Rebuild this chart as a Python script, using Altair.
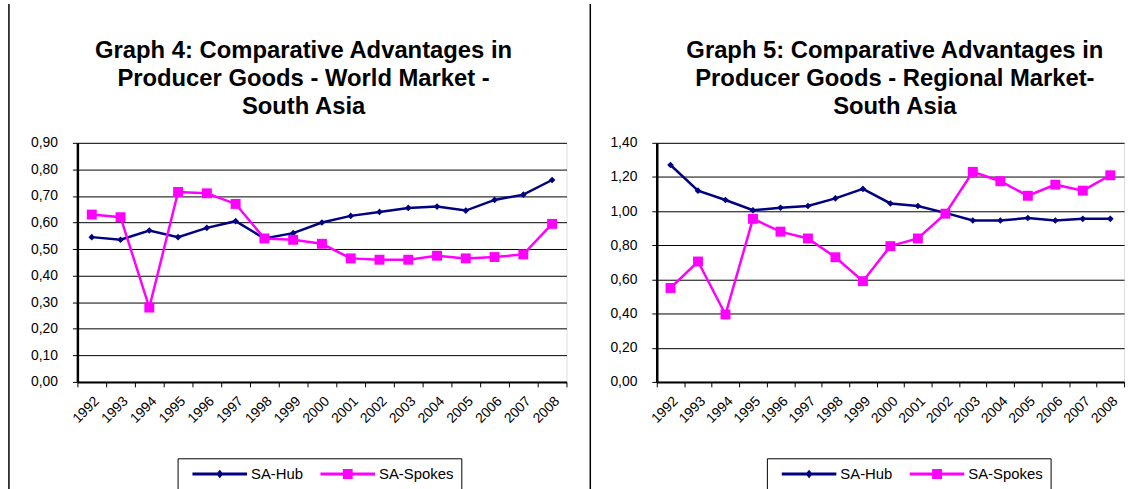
import altair as alt
import pandas as pd

# Years on the category axis
years = [str(y) for y in range(1992, 2009)]

# Revealed comparative advantage, producer goods - world market
world_hub = [0.545, 0.535, 0.57, 0.545, 0.58, 0.605, 0.54, 0.56, 0.60, 0.625,
             0.64, 0.655, 0.66, 0.645, 0.685, 0.705, 0.76]
world_spokes = [0.63, 0.62, 0.28, 0.715, 0.71, 0.67, 0.54, 0.535, 0.52, 0.465,
                0.46, 0.46, 0.475, 0.465, 0.47, 0.48, 0.595]

# Revealed comparative advantage, producer goods - regional market
regional_hub = [1.27, 1.12, 1.065, 1.005, 1.02, 1.03, 1.075, 1.13, 1.045, 1.03,
                0.99, 0.945, 0.945, 0.96, 0.945, 0.955, 0.955]
regional_spokes = [0.55, 0.705, 0.395, 0.955, 0.88, 0.84, 0.73, 0.59, 0.795, 0.84,
                   0.985, 1.23, 1.175, 1.09, 1.155, 1.12, 1.21]

series_names = ["SA-Hub", "SA-Spokes"]
series_colors = ["#000080", "#FF00FF"]
series_shapes = ["diamond", "square"]

# Legend glyphs: a line segment with the series marker in its middle.
# Units are half the symbol side (8.5 px for symbolSize 289); the glyph
# reaches to the right of the symbol box, so the label is pushed past it.
LINE = "M-0.06,-0.18L6.41,-0.18L6.41,0.18L-0.06,0.18Z"
legend_paths = [
    LINE + "M3.18,-0.5L3.6,0L3.18,0.5L2.76,0Z",
    LINE + "M2.6,-0.6L3.76,-0.6L3.76,0.6L2.6,0.6Z",
]

FONT = "Liberation Sans"
PLOT_H = 241


def legend_def(legend_x):
    return alt.Legend(
        title=None, orient="none", legendX=legend_x, legendY=318,
        direction="horizontal", strokeColor="black", padding=7,
        labelFontSize=15, labelFont=FONT, labelColor="black",
        labelOffset=50, columnPadding=9, symbolSize=289,
        symbolStrokeWidth=0, symbolOpacity=1,
    )


def panel(hub, spokes, ymax, ystep, title_lines, title_x, width, legend_x, seps):
    df = pd.DataFrame({
        "year": years * 2,
        "value": hub + spokes,
        "series": [series_names[0]] * len(years) + [series_names[1]] * len(years),
    })
    n_ticks = int(round(ymax / ystep)) + 1
    y_values = [round(i * ystep, 2) for i in range(n_ticks)]

    x = alt.X(
        "year:O",
        scale=alt.Scale(type="band", paddingInner=0, paddingOuter=0),
        axis=alt.Axis(
            title=None, labelAngle=-45, labelFontSize=14, labelFont=FONT,
            labelColor="black", labelPadding=7, domainColor="black", domainWidth=2,
            tickColor="black", tickSize=5, tickWidth=1, tickBand="extent",
            grid=False, labelOverlap=False,
        ),
    )
    y = alt.Y(
        "value:Q",
        scale=alt.Scale(domain=[0, ymax], nice=False, zero=True),
        axis=alt.Axis(
            title=None, values=y_values, labelFontSize=14, labelFont=FONT,
            labelColor="black", labelPadding=15, domainColor="black", domainWidth=2.5,
            tickColor="black", tickSize=5, tickWidth=1, gridColor="black",
            gridWidth=1, gridOpacity=1,
            labelExpr="replace(format(datum.value, '.2f'), '.', ',')",
        ),
    )

    base = alt.Chart(df)
    layers = []
    for name, color, shape in zip(series_names, series_colors, series_shapes):
        sub = base.transform_filter(alt.datum.series == name)
        layers.append(sub.mark_line(color=color, strokeWidth=2.5).encode(x=x, y=y))
        size = 45 if shape == "diamond" else 100
        layers.append(
            sub.mark_point(shape=shape, filled=True, color=color, size=size, opacity=1)
            .encode(x=x, y=y)
        )

    # Invisible layer carrying the legend
    legend_layer = base.mark_point(filled=True, opacity=0).encode(
        x=x, y=y,
        color=alt.Color(
            "series:N",
            scale=alt.Scale(domain=series_names, range=series_colors),
            legend=legend_def(legend_x),
        ),
        shape=alt.Shape(
            "series:N",
            scale=alt.Scale(domain=series_names, range=legend_paths),
            legend=legend_def(legend_x),
        ),
    )

    one = pd.DataFrame({"k": [0]})
    title = alt.Chart(one).mark_text(
        text=title_lines, font=FONT, fontSize=24, fontWeight="bold",
        color="black", align="center", baseline="alphabetic", lineHeight=28,
    ).encode(x=alt.value(title_x), y=alt.value(-85))

    rules = [
        alt.Chart(one).mark_rule(color="black", strokeWidth=1.5).encode(
            x=alt.value(sx), y=alt.value(-140), y2=alt.value(349)
        )
        for sx in seps
    ]

    return alt.layer(*layers, legend_layer, title, *rules).properties(
        width=width, height=PLOT_H
    )


left = panel(
    world_hub, world_spokes, 0.9, 0.1,
    ["Graph 4: Comparative Advantages in", "Producer Goods - World Market -", "South Asia"],
    228, 493, 101, [-69],
)
right = panel(
    regional_hub, regional_spokes, 1.4, 0.2,
    ["Graph 5: Comparative Advantages in", "Producer Goods - Regional Market-", "South Asia"],
    240, 471, 111, [-67],
)

chart = (
    alt.hconcat(left, right, spacing=18)
    .resolve_scale(x="independent", y="independent", color="independent", shape="independent")
    .resolve_legend(color="independent", shape="independent")
    .properties(padding={"left": 7, "top": 0, "right": 0, "bottom": 0})
    .configure_view(stroke="#808080", strokeWidth=2)
    .configure(background="white")
)

chart.save("out.html", embed_options={"renderer": "svg", "actions": False})
